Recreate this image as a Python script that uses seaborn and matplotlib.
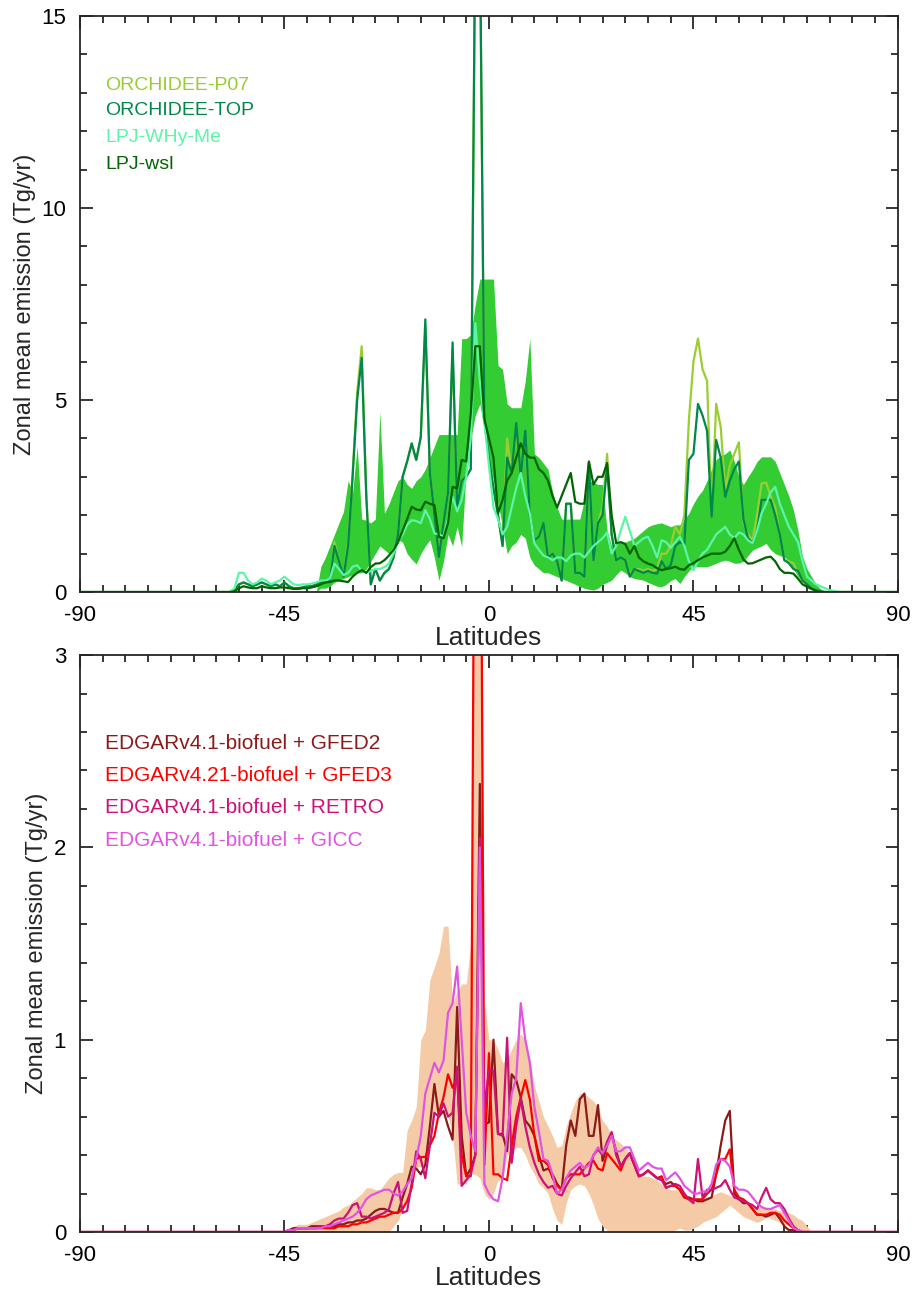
"""Zonal mean emission vs latitude: two stacked panels (wetland models / fire+biofuel inventories)"""
import matplotlib
matplotlib.use('Agg')
import matplotlib.pyplot as plt
from matplotlib.ticker import MultipleLocator
import numpy as np
import seaborn as sns

sns.set_style('ticks')
plt.rcParams['font.family'] = ['Liberation Sans', 'DejaVu Sans']
plt.rcParams['font.size'] = 15
plt.rcParams['axes.unicode_minus'] = False

# ---------------- top panel data, lat -56..78 (1 deg) ----------------
lat_top = np.arange(-90, 91)
ZERO_L_TOP = [0.0] * 34   # -90..-57
ZERO_R_TOP = [0.0] * 12   # 79..90

orchidee_top = [
    0.05, 0.2, 0.25, 0.2, 0.15, 0.2, 0.25, 0.2, 0.15, 0.2,
    0.15, 0.25, 0.15, 0.1, 0.1, 0.12, 0.15, 0.15, 0.2, 0.25,
    0.3, 0.3, 1.2, 0.8, 0.4, 1.2, 3.0, 5.0, 6.1, 2.5,
    0.2, 0.6, 0.3, 0.5, 0.6, 0.9, 1.5, 3.0, 3.4, 3.87,
    3.44, 4.05, 7.1, 3.1, 2.0, 0.92, 1.8, 2.6, 6.5, 2.2,
    2.9, 3.0, 3.2, 17.5, 17.5, 4.5, 3.5, 2.7, 2.0, 1.2,
    3.5, 3.1, 4.4, 3.0, 4.2, 2.0, 1.35, 1.44, 1.8, 0.9,
    1.0, 0.8, 0.3, 2.3, 2.3, 0.5, 0.5, 0.4, 3.36, 0.83,
    1.8, 2.0, 3.27, 1.5, 0.83, 0.9, 0.83, 0.4, 0.6, 0.55,
    0.5, 0.55, 0.5, 0.48, 0.8, 0.6, 0.7, 1.2, 1.3, 1.25,
    3.44, 3.6, 4.9, 4.6, 4.2, 1.96, 3.96, 3.5, 2.48, 2.9,
    3.2, 3.4, 1.9, 1.4, 1.27, 1.6, 2.4, 2.4, 2.4, 2.0,
    1.5, 0.83, 0.75, 0.6, 0.55, 0.3, 0.2, 0.1, 0.05, 0.02,
    0.0, 0.0, 0.0, 0.0, 0.0,
]
orchidee_p07 = [
    0.05, 0.2, 0.25, 0.2, 0.15, 0.2, 0.25, 0.2, 0.15, 0.2,
    0.15, 0.25, 0.15, 0.1, 0.1, 0.12, 0.15, 0.15, 0.2, 0.25,
    0.3, 0.3, 1.3, 0.8, 0.4, 1.3, 3.1, 5.2, 6.4, 2.6,
    0.2, 0.6, 0.3, 0.5, 0.6, 0.9, 1.5, 3.0, 3.4, 3.87,
    3.44, 4.0, 6.9, 3.1, 2.0, 0.95, 1.8, 2.6, 6.3, 2.2,
    2.9, 3.0, 3.2, 17.0, 17.0, 4.5, 3.5, 2.7, 2.0, 1.2,
    4.0, 3.1, 4.2, 3.0, 4.0, 2.0, 1.35, 1.44, 1.8, 0.95,
    1.0, 0.8, 0.3, 2.3, 2.3, 0.5, 0.5, 0.4, 3.36, 0.83,
    1.8, 2.2, 3.6, 1.5, 0.83, 0.9, 0.83, 0.45, 0.6, 0.6,
    0.55, 0.6, 0.55, 0.6, 1.0, 1.0, 1.2, 1.7, 1.5, 2.0,
    4.48, 6.0, 6.6, 5.8, 5.5, 1.96, 4.9, 4.3, 2.65, 3.3,
    3.6, 3.9, 1.8, 1.5, 1.35, 2.0, 2.83, 2.85, 2.5, 2.2,
    1.5, 0.83, 0.8, 0.75, 0.5, 0.3, 0.2, 0.1, 0.05, 0.02,
    0.0, 0.0, 0.0, 0.0, 0.0,
]
lpj_whyme = [
    0.1, 0.5, 0.5, 0.3, 0.2, 0.25, 0.35, 0.3, 0.2, 0.25,
    0.3, 0.4, 0.3, 0.2, 0.18, 0.2, 0.2, 0.22, 0.25, 0.3,
    0.3, 0.35, 0.74, 0.6, 0.44, 0.5, 0.66, 0.7, 0.55, 0.5,
    0.55, 0.6, 0.6, 0.65, 0.75, 1.0, 1.3, 1.5, 1.75, 1.87,
    1.85, 1.79, 2.13, 1.9, 1.53, 1.5, 1.45, 1.9, 2.48, 2.1,
    2.4, 3.0, 4.0, 7.0, 5.5, 4.4, 3.3, 2.2, 1.9, 1.5,
    1.7, 2.2, 2.7, 3.1, 2.5, 2.05, 1.27, 1.1, 0.95, 0.9,
    0.83, 0.9, 0.9, 0.8, 0.95, 1.0, 1.0, 0.9, 1.05, 1.2,
    1.3, 1.4, 1.55, 1.0, 1.2, 1.6, 1.96, 1.6, 1.2, 1.3,
    1.4, 1.44, 1.2, 0.9, 1.35, 1.3, 1.15, 1.3, 1.44, 1.2,
    0.8, 0.57, 0.8, 1.0, 1.1, 1.3, 1.5, 1.6, 1.7, 1.5,
    1.4, 1.55, 1.5, 1.35, 1.27, 1.6, 2.05, 2.3, 2.6, 2.74,
    2.3, 2.0, 1.7, 1.5, 1.3, 0.8, 0.4, 0.3, 0.2, 0.15,
    0.1, 0.05, 0.02, 0.0, 0.0,
]
lpj_wsl = [
    0.02, 0.1, 0.15, 0.12, 0.1, 0.1, 0.15, 0.12, 0.1, 0.1,
    0.12, 0.12, 0.1, 0.08, 0.08, 0.1, 0.1, 0.12, 0.15, 0.2,
    0.25, 0.26, 0.3, 0.3, 0.28, 0.26, 0.4, 0.5, 0.57, 0.5,
    0.65, 0.74, 0.75, 0.83, 0.95, 1.1, 1.3, 1.6, 1.9, 2.22,
    2.15, 2.13, 2.35, 2.3, 2.26, 1.44, 1.4, 1.8, 2.74, 2.7,
    3.44, 3.4, 4.65, 6.4, 6.4, 4.5, 4.0, 3.5, 2.05, 2.4,
    2.9, 3.1, 3.5, 3.87, 3.6, 3.5, 3.5, 3.2, 3.1, 2.9,
    2.5, 2.2, 2.5, 2.8, 3.1, 2.35, 2.3, 2.3, 3.4, 2.8,
    3.0, 3.0, 3.36, 2.0, 1.27, 1.3, 1.25, 1.0, 1.2, 0.9,
    0.8, 0.74, 0.7, 0.62, 0.57, 0.6, 0.62, 0.66, 0.6, 0.58,
    0.7, 0.75, 0.83, 0.9, 0.95, 1.0, 1.0, 1.0, 1.05, 1.2,
    1.4, 1.1, 0.85, 0.74, 0.75, 0.8, 0.85, 0.9, 0.92, 0.8,
    0.6, 0.5, 0.5, 0.48, 0.35, 0.2, 0.14, 0.08, 0.03, 0.0,
    0.0, 0.0, 0.0, 0.0, 0.0,
]
wet_hi = [
    0.0, 0.0, 0.0, 0.0, 0.0, 0.0, 0.0, 0.0, 0.0, 0.0,
    0.0, 0.0, 0.0, 0.0, 0.0, 0.0, 0.0, 0.0, 0.0, 0.66,
    0.9, 1.2, 1.5, 1.8, 2.1, 2.9, 2.6, 3.8, 1.9, 1.87,
    1.8, 1.9, 4.7, 2.05, 2.3, 2.6, 2.9, 3.0, 2.8, 2.7,
    2.9, 3.0, 3.2, 3.5, 3.8, 4.1, 4.1, 4.1, 4.1, 4.1,
    6.6, 6.6, 6.7, 7.5, 8.15, 8.15, 8.15, 8.15, 5.9, 5.8,
    4.9, 4.8, 4.8, 4.8, 5.5, 6.6, 3.6, 3.5, 3.35, 3.2,
    2.6, 2.2, 1.9, 1.9, 1.9, 1.9, 1.9, 2.4, 2.9, 2.85,
    2.8, 2.8, 1.6, 1.2, 1.25, 1.3, 1.3, 1.35, 1.4, 1.5,
    1.6, 1.7, 1.75, 1.78, 1.8, 1.75, 1.7, 1.75, 1.75, 1.9,
    2.05, 2.3, 2.5, 2.65, 2.9, 3.2, 3.45, 3.55, 3.6, 3.7,
    3.4, 3.0, 2.8, 3.0, 3.18, 3.4, 3.52, 3.52, 3.52, 3.4,
    3.1, 2.8, 2.5, 2.14, 1.6, 0.92, 0.6, 0.4, 0.2, 0.08,
    0.0, 0.0, 0.0, 0.0, 0.0,
]
wet_lo = [
    0.0, 0.0, 0.0, 0.0, 0.0, 0.0, 0.0, 0.0, 0.0, 0.0,
    0.0, 0.0, 0.0, 0.0, 0.0, 0.0, 0.0, 0.0, 0.0, 0.1,
    0.1, 0.15, 0.25, 0.31, 0.35, 0.4, 0.45, 0.5, 0.5, 0.6,
    0.8, 1.0, 1.2, 1.1, 1.0, 1.2, 1.36, 1.3, 1.0, 0.85,
    0.73, 1.0, 1.2, 1.36, 0.9, 0.3, 0.8, 1.5, 1.2, 1.7,
    1.18, 3.2, 4.0, 4.6, 4.9, 4.2, 3.5, 2.9, 2.3, 1.7,
    1.0, 1.2, 1.3, 1.5, 1.4, 0.9, 0.7, 0.6, 0.5, 0.5,
    0.45, 0.4, 0.35, 0.3, 0.25, 0.2, 0.14, 0.1, 0.07, 0.05,
    0.1, 0.2, 0.25, 0.31, 0.45, 0.57, 0.5, 0.4, 0.35, 0.33,
    0.31, 0.25, 0.2, 0.15, 0.14, 0.2, 0.3, 0.35, 0.22, 0.4,
    0.55, 0.66, 0.66, 0.66, 0.66, 0.7, 0.75, 0.8, 0.83, 0.8,
    0.75, 0.75, 0.8, 0.95, 1.09, 1.15, 1.2, 1.27, 1.1, 1.0,
    0.95, 0.92, 0.8, 0.6, 0.4, 0.3, 0.2, 0.14, 0.08, 0.03,
    0.0, 0.0, 0.0, 0.0, 0.0,
]

# ---------------- bottom panel data, lat -46..73 (1 deg) ----------------
lat_bot = np.arange(-90, 91)
ZERO_L_BOT = [0.0] * 44   # -90..-47
ZERO_R_BOT = [0.0] * 17   # 74..90

gfed2 = [
    0.0, 0.0, 0.01, 0.02, 0.02, 0.02, 0.02, 0.03, 0.03, 0.03,
    0.03, 0.03, 0.03, 0.04, 0.04, 0.05, 0.05, 0.06, 0.06, 0.07,
    0.09, 0.11, 0.12, 0.12, 0.11, 0.1, 0.1, 0.18, 0.25, 0.34,
    0.33, 0.3, 0.35, 0.55, 0.77, 0.6, 0.63, 0.55, 0.48, 1.17,
    0.5, 0.29, 0.33, 0.4, 2.33, 0.56, 0.57, 1.0, 0.51, 0.51,
    0.42, 0.82, 0.79, 0.7, 0.58, 0.55, 0.5, 0.4, 0.32, 0.33,
    0.3, 0.25, 0.22, 0.45, 0.58, 0.5, 0.69, 0.72, 0.5, 0.5,
    0.66, 0.37, 0.45, 0.51, 0.42, 0.34, 0.38, 0.41, 0.35, 0.29,
    0.3, 0.32, 0.3, 0.28, 0.27, 0.25, 0.26, 0.24, 0.22, 0.18,
    0.18, 0.17, 0.16, 0.16, 0.17, 0.18, 0.3, 0.45, 0.58, 0.63,
    0.2, 0.17, 0.15, 0.15, 0.12, 0.09, 0.09, 0.08, 0.09, 0.1,
    0.07, 0.03, 0.01, 0.01, 0.0, 0.0, 0.0, 0.0, 0.0, 0.0,
]
gfed3 = [
    0.0, 0.0, 0.01, 0.01, 0.02, 0.02, 0.02, 0.02, 0.02, 0.02,
    0.02, 0.02, 0.02, 0.03, 0.03, 0.03, 0.04, 0.04, 0.05, 0.05,
    0.06, 0.07, 0.08, 0.08, 0.09, 0.1, 0.1, 0.12, 0.16, 0.23,
    0.38, 0.39, 0.39, 0.45, 0.5, 0.62, 0.7, 0.82, 0.75, 0.8,
    0.4, 0.29, 0.29, 5.0, 5.0, 0.35, 0.93, 0.3, 0.3, 0.28,
    0.27, 0.45, 0.6, 0.7, 0.79, 0.69, 0.5, 0.37, 0.37, 0.35,
    0.28, 0.24, 0.22, 0.28, 0.3, 0.3, 0.3, 0.33, 0.36, 0.37,
    0.33, 0.32, 0.41, 0.38, 0.35, 0.32, 0.38, 0.41, 0.35, 0.29,
    0.3, 0.32, 0.3, 0.28, 0.29, 0.23, 0.24, 0.24, 0.22, 0.18,
    0.17, 0.17, 0.17, 0.17, 0.2, 0.22, 0.3, 0.38, 0.38, 0.43,
    0.22, 0.18, 0.17, 0.15, 0.12, 0.09, 0.09, 0.09, 0.1, 0.1,
    0.09, 0.06, 0.04, 0.02, 0.01, 0.0, 0.0, 0.0, 0.0, 0.0,
]
retro = [
    0.0, 0.0, 0.01, 0.01, 0.02, 0.02, 0.02, 0.02, 0.02, 0.03,
    0.03, 0.04, 0.06, 0.07, 0.07, 0.1, 0.14, 0.15, 0.08, 0.08,
    0.07, 0.08, 0.09, 0.1, 0.12, 0.2, 0.26, 0.1, 0.11, 0.25,
    0.42, 0.38, 0.28, 0.45, 0.62, 0.6, 0.67, 0.6, 0.62, 0.86,
    0.24, 0.27, 0.3, 0.4, 2.05, 0.64, 0.84, 0.84, 0.51, 0.5,
    1.01, 0.36, 0.55, 0.69, 0.55, 0.44, 0.36, 0.3, 0.26, 0.23,
    0.24, 0.2, 0.19, 0.24, 0.28, 0.31, 0.34, 0.29, 0.3, 0.4,
    0.43, 0.4, 0.47, 0.52, 0.4, 0.34, 0.38, 0.41, 0.35, 0.29,
    0.3, 0.32, 0.3, 0.28, 0.27, 0.23, 0.24, 0.25, 0.24, 0.2,
    0.17, 0.15, 0.38, 0.18, 0.22, 0.22, 0.23, 0.24, 0.27, 0.22,
    0.18, 0.17, 0.16, 0.15, 0.14, 0.12, 0.18, 0.23, 0.17, 0.15,
    0.15, 0.12, 0.07, 0.03, 0.01, 0.0, 0.0, 0.0, 0.0, 0.0,
]
gicc = [
    0.0, 0.0, 0.01, 0.01, 0.02, 0.02, 0.02, 0.02, 0.02, 0.02,
    0.03, 0.03, 0.04, 0.05, 0.06, 0.07, 0.08, 0.1, 0.13, 0.17,
    0.19, 0.2, 0.21, 0.22, 0.22, 0.2, 0.19, 0.21, 0.25, 0.28,
    0.38, 0.5, 0.72, 0.8, 0.88, 0.83, 0.89, 1.14, 1.19, 1.38,
    1.0, 0.62, 0.5, 0.42, 2.0, 0.25, 0.2, 0.17, 0.16, 0.28,
    0.5, 0.72, 0.8, 1.19, 1.0, 0.88, 0.65, 0.52, 0.38, 0.37,
    0.3, 0.2, 0.22, 0.28, 0.32, 0.34, 0.36, 0.33, 0.35, 0.4,
    0.44, 0.41, 0.45, 0.5, 0.42, 0.42, 0.44, 0.44, 0.38, 0.32,
    0.34, 0.36, 0.34, 0.33, 0.33, 0.27, 0.29, 0.31, 0.28, 0.24,
    0.22, 0.2, 0.2, 0.21, 0.21, 0.25, 0.35, 0.38, 0.37, 0.34,
    0.24, 0.22, 0.22, 0.21, 0.18, 0.15, 0.13, 0.12, 0.12, 0.13,
    0.14, 0.1, 0.06, 0.02, 0.01, 0.0, 0.0, 0.0, 0.0, 0.0,
]
fire_hi = [
    0.0, 0.0, 0.02, 0.03, 0.04, 0.04, 0.04, 0.05, 0.06, 0.07,
    0.08, 0.09, 0.1, 0.11, 0.13, 0.14, 0.16, 0.18, 0.2, 0.23,
    0.23, 0.22, 0.22, 0.25, 0.28, 0.3, 0.31, 0.31, 0.53, 0.58,
    0.65, 1.0, 1.05, 1.31, 1.38, 1.45, 1.59, 1.59, 1.19, 1.25,
    1.29, 1.29, 1.5, 5.0, 5.0, 1.2, 1.0, 1.0, 0.95, 0.88,
    0.9, 0.95, 1.0, 1.03, 1.0, 0.9, 0.76, 0.68, 0.6, 0.55,
    0.5, 0.44, 0.45, 0.55, 0.62, 0.68, 0.72, 0.72, 0.7, 0.68,
    0.65, 0.58, 0.55, 0.5, 0.48, 0.46, 0.44, 0.4, 0.35, 0.3,
    0.29, 0.29, 0.28, 0.27, 0.25, 0.23, 0.22, 0.22, 0.22, 0.2,
    0.18, 0.17, 0.17, 0.17, 0.18, 0.19, 0.2, 0.21, 0.2, 0.19,
    0.18, 0.16, 0.15, 0.14, 0.14, 0.13, 0.13, 0.13, 0.12, 0.12,
    0.11, 0.11, 0.1, 0.09, 0.07, 0.06, 0.03, 0.0, 0.0, 0.0,
]
fire_lo = [
    0.0, 0.0, 0.0, 0.0, 0.0, 0.0, 0.0, 0.0, 0.0, 0.0,
    0.0, 0.0, 0.0, 0.0, 0.0, 0.0, 0.0, 0.0, 0.0, 0.0,
    0.0, 0.0, 0.0, 0.0, 0.0, 0.03, 0.06, 0.12, 0.18, 0.23,
    0.34, 0.34, 0.35, 0.5, 0.62, 0.65, 0.68, 0.6, 0.51, 0.25,
    0.25, 0.25, 0.3, 0.3, 0.28, 0.2, 0.17, 0.2, 0.27, 0.27,
    0.4, 0.42, 0.44, 0.44, 0.4, 0.34, 0.3, 0.25, 0.23, 0.2,
    0.12, 0.06, 0.04, 0.15, 0.22, 0.24, 0.25, 0.24, 0.2, 0.14,
    0.07, 0.03, 0.01, 0.0, 0.0, 0.0, 0.0, 0.0, 0.0, 0.0,
    0.0, 0.0, 0.0, 0.0, 0.0, 0.0, 0.0, 0.01, 0.02, 0.01,
    0.01, 0.02, 0.03, 0.05, 0.06, 0.07, 0.08, 0.1, 0.12, 0.14,
    0.12, 0.1, 0.08, 0.07, 0.06, 0.05, 0.06, 0.08, 0.07, 0.06,
    0.05, 0.04, 0.03, 0.02, 0.01, 0.0, 0.0, 0.0, 0.0, 0.0,
]

top_series = [
    ('ORCHIDEE-P07', orchidee_p07, '#9ACD32'),
    ('ORCHIDEE-TOP', orchidee_top, '#00884A'),
    ('LPJ-WHy-Me', lpj_whyme, '#5CF5A8'),
    ('LPJ-wsl', lpj_wsl, '#006400'),
]
bot_series = [
    ('EDGARv4.1-biofuel + GFED2', gfed2, '#8B1A1A'),
    ('EDGARv4.21-biofuel + GFED3', gfed3, '#FF0000'),
    ('EDGARv4.1-biofuel + RETRO', retro, '#CC1177'),
    ('EDGARv4.1-biofuel + GICC', gicc, '#E055E0'),
]


def pad_top(v):
    return np.array(ZERO_L_TOP + v + ZERO_R_TOP)


def pad_bot(v):
    return np.array(ZERO_L_BOT + v + ZERO_R_BOT)


def style_axes(ax, ymax, ymajor, yminor):
    ax.set_xlim(-90, 90)
    ax.set_ylim(0, ymax)
    ax.xaxis.set_major_locator(MultipleLocator(45))
    ax.xaxis.set_minor_locator(MultipleLocator(5))
    ax.yaxis.set_major_locator(MultipleLocator(ymajor))
    ax.yaxis.set_minor_locator(MultipleLocator(yminor))
    ax.tick_params(which='both', direction='in', top=True, right=True,
                   width=1.1, colors='black', labelsize=16)
    ax.tick_params(which='major', length=9)
    ax.tick_params(axis='x', which='major', pad=9)
    ax.tick_params(axis='y', which='major', pad=10)
    ax.tick_params(which='minor', length=5)
    for sp in ax.spines.values():
        sp.set_linewidth(1.3)
        sp.set_visible(True)
    ax.set_xlabel('Latitudes', fontsize=19, labelpad=0)
    ax.set_ylabel('Zonal mean emission (Tg/yr)', fontsize=17, labelpad=4)


fig = plt.figure(figsize=(9.17, 12.89), dpi=100)
ax1 = fig.add_axes([0.0872, 0.5407, 0.892, 0.4469])
ax2 = fig.add_axes([0.0872, 0.0442, 0.892, 0.4476])

# Panel 1: wetland models
ax1.fill_between(lat_top, pad_top(wet_lo), pad_top(wet_hi), color='#33CC33', lw=0)
for name, vals, col in top_series:
    sns.lineplot(x=lat_top, y=pad_top(vals), ax=ax1, color=col, linewidth=1.6,
                 estimator=None, sort=False)
style_axes(ax1, 15, 5, 1)
ypos = [0.880, 0.836, 0.789, 0.742]
for (name, vals, col), yy in zip(top_series, ypos):
    ax1.text(0.031, yy, name, color=col, fontsize=14, va='center', ha='left',
             transform=ax1.transAxes)

# Panel 2: fire + biofuel inventories
ax2.fill_between(lat_bot, pad_bot(fire_lo), pad_bot(fire_hi), color='#F5CBA7', lw=0)
for name, vals, col in bot_series:
    sns.lineplot(x=lat_bot, y=pad_bot(vals), ax=ax2, color=col, linewidth=1.6,
                 estimator=None, sort=False)
style_axes(ax2, 3, 1, 0.2)
ypos = [0.847, 0.792, 0.735, 0.679]
for (name, vals, col), yy in zip(bot_series, ypos):
    ax2.text(0.031, yy, name, color=col, fontsize=15, va='center', ha='left',
             transform=ax2.transAxes)

fig.savefig('out.png', dpi=100)
plt.close()
